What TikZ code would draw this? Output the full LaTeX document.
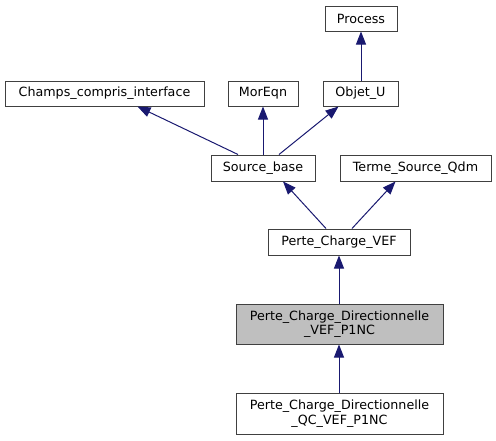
\documentclass[tikz,border=0pt]{standalone}
\usepackage{fontspec}
\setmainfont{DejaVu Sans}
\usetikzlibrary{arrows.meta}
\definecolor{edgeblue}{HTML}{191970}

\begin{document}
\begin{tikzpicture}[x=1pt,y=-1pt,
	cls/.style={draw=black!75, line width=1pt, fill=white, inner sep=0pt, font=\fontsize{12.7}{14.5}\selectfont, align=center},
	inh/.style={draw=edgeblue, line width=1pt, {Triangle[length=13pt,width=10pt]}-}]
		\useasboundingbox (0,0) rectangle (496,440);
		\node[cls, minimum width=72pt, minimum height=25pt] (Proc) at (361,18.5) {Process};
		\node[cls, minimum width=199pt, minimum height=25pt] (Champs) at (104.5,93.5) {Champs\_compris\_interface};
		\node[cls, minimum width=70pt, minimum height=25pt] (Mor) at (263,93.5) {MorEqn};
		\node[cls, minimum width=75pt, minimum height=25pt] (Obj) at (360.5,93.5) {Objet\_U};
		\node[cls, minimum width=104pt, minimum height=26pt] (Src) at (263,168) {Source\_base};
		\node[cls, minimum width=151pt, minimum height=26pt] (Terme) at (415.5,168) {Terme\_Source\_Qdm};
		\node[cls, minimum width=142pt, minimum height=26pt] (PCV) at (339,242) {Perte\_Charge\_VEF};
		\node[cls, fill=black!25, minimum width=207pt, minimum height=40pt] (PCD) at (339.5,324) {Perte\_Charge\_Directionnelle\\\_VEF\_P1NC};
		\node[cls, minimum width=207pt, minimum height=41pt] (PCDQC) at (339.5,413.5) {Perte\_Charge\_Directionnelle\\\_QC\_VEF\_P1NC};
		% heritage
		\draw[inh] (Proc.south) -- (Obj.north -| Proc.south);
		\draw[inh] ([xshift=33pt]Champs.south) -- ([xshift=-25pt]Src.north);
		\draw[inh] (Mor.south) -- (Src.north);
		\draw[inh] ([xshift=-22pt]Obj.south) -- ([xshift=16pt]Src.north);
		\draw[inh] ([xshift=20pt]Src.south) -- ([xshift=-13pt]PCV.north);
		\draw[inh] ([xshift=-20pt]Terme.south) -- ([xshift=13pt]PCV.north);
		\draw[inh] (PCV.south) -- (PCD.north -| PCV.south);
		\draw[inh] (PCD.south -| PCV.south) -- (PCDQC.north -| PCV.south);
	\end{tikzpicture}
\end{document}
